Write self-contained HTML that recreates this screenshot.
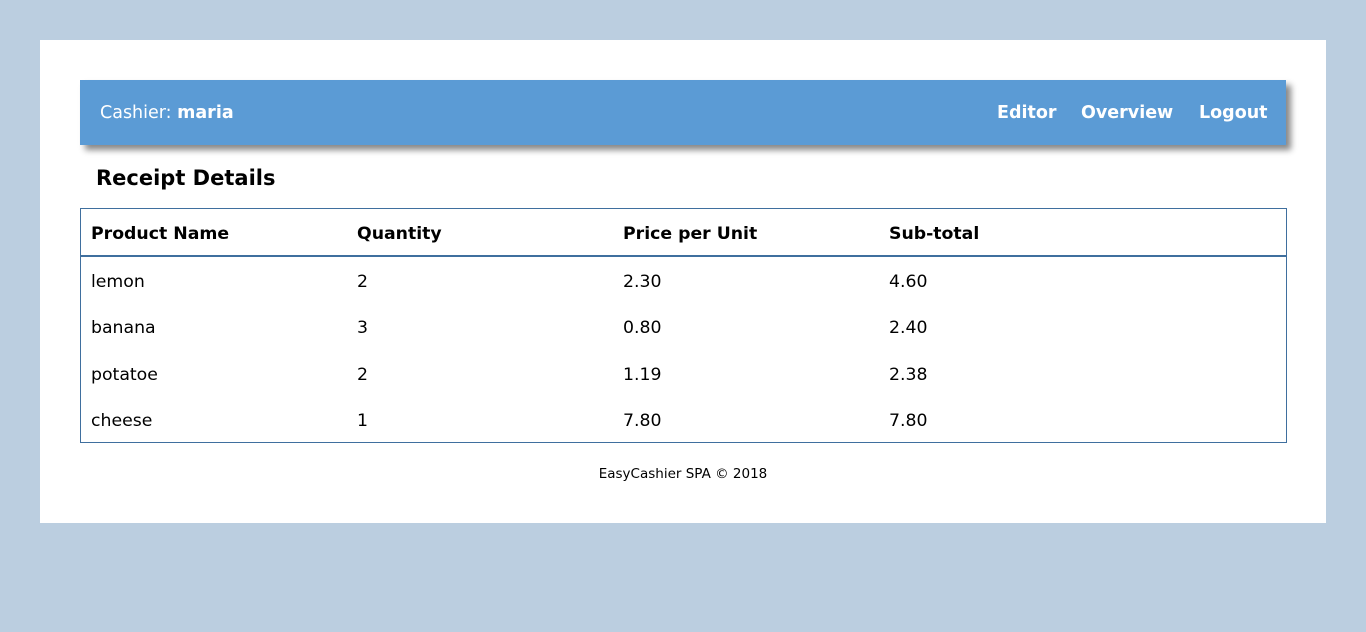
<!DOCTYPE html>
<html><head><meta charset="utf-8"><style>
body{margin:0;width:1366px;height:632px;background:#bbcee0;font-family:"DejaVu Sans","Liberation Sans",sans-serif;position:relative;overflow:hidden}
.panel{position:absolute;left:40px;top:40px;width:1286px;height:483px;background:#fff}
.nav{position:absolute;left:80px;top:80px;width:1206px;height:65px;background:#5b9bd5;box-shadow:5px 5px 6px #888;color:#fff;font-size:17.5px}
.nav .who{position:absolute;left:20px;top:23px}
.nav a{position:absolute;top:23px;font-weight:bold;color:#fff;text-decoration:none}
h2{position:absolute;left:96px;top:166px;margin:0;font-size:21px;font-weight:bold}
.tbl{position:absolute;left:80px;top:208px;width:1205px;height:233px;border:1px solid #3f6f9e}
.hdr{position:absolute;left:0;top:46px;width:100%;height:2px;background:#3f6f9e}
.c{position:absolute;font-size:17.3px;line-height:20px;white-space:nowrap}
.b{font-weight:bold}
.foot{position:absolute;left:0;width:1366px;top:466px;text-align:center;font-size:13.5px}
</style></head><body>
<div class="panel"></div>
<div class="nav">
<span class="who">Cashier: <b>maria</b></span>
<a style="left:917px">Editor</a>
<a style="left:1001px">Overview</a>
<a style="left:1119px">Logout</a>
</div>
<h2>Receipt Details</h2>
<div class="tbl"><div class="hdr"></div></div>
<div id="cells"></div>
<div class="foot">EasyCashier SPA © 2018</div>
<script>
const headers=["Product Name","Quantity","Price per Unit","Sub-total"];
const rows=[["lemon","2","2.30","4.60"],["banana","3","0.80","2.40"],["potatoe","2","1.19","2.38"],["cheese","1","7.80","7.80"]];
const xs=[91,357,623,889];
const rowY=[272,318,365,411];
const host=document.getElementById('cells');
headers.forEach((h,i)=>{const d=document.createElement('div');d.className='c b';d.style.left=xs[i]+'px';d.style.top='224px';d.textContent=h;


host.appendChild(d);});
rows.forEach((r,j)=>r.forEach((v,i)=>{const d=document.createElement('div');d.className='c';d.style.left=xs[i]+'px';d.style.top=rowY[j]+'px';d.textContent=v;


host.appendChild(d);}));
</script>
</body></html>
